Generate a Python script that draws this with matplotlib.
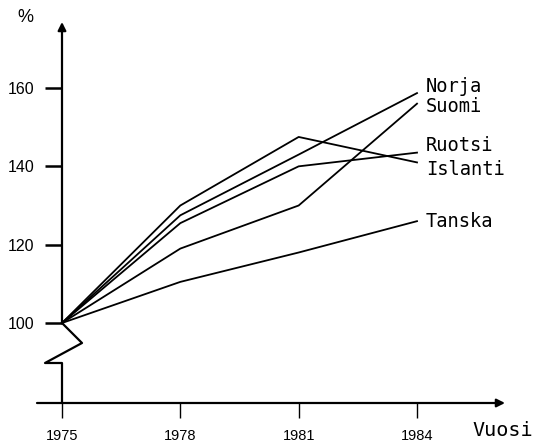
import matplotlib
matplotlib.use("Agg")
import matplotlib.pyplot as plt

years = [1975, 1978, 1981, 1984]
countries = ["Norja", "Suomi", "Ruotsi", "Islanti", "Tanska"]
norja = [100, 127.5, 143, 158.7]
suomi = [100, 119, 130, 156]
ruotsi = [100, 125.5, 140, 143.5]
islanti = [100, 130, 147.5, 141]
tanska = [100, 110.5, 118, 126]
series = [norja, suomi, ruotsi, islanti, tanska]
label_y = [160.5, 155.4, 145.4, 139.1, 126.0]
yticks = [100, 120, 140, 160]

W, H = 536, 444
fig = plt.figure(figsize=(W / 100, H / 100), dpi=100)
px_left, px_right = 62, 505
px_top, px_bottom = 22, 403
x_per_px = 9 / (417 - 62)
y_per_px = 60 / (323 - 88)
x0 = 1975
xmax = x0 + (px_right - px_left) * x_per_px
ymin = 100 - (px_bottom - 323) * y_per_px
ymax = 100 + (323 - px_top) * y_per_px

ax = fig.add_axes([px_left / W, (H - px_bottom) / H,
                   (px_right - px_left) / W, (px_bottom - px_top) / H])
ax.set_xlim(x0, xmax)
ax.set_ylim(ymin, ymax)
for s in ax.spines.values():
    s.set_visible(False)

lw_axis = 1.6
k = 'black'
ax.annotate('', xy=(x0, ymax), xytext=(x0, 100),
            arrowprops=dict(arrowstyle='-|>', color=k, lw=lw_axis,
                            mutation_scale=12, shrinkA=0, shrinkB=0),
            annotation_clip=False)
dx = x_per_px
dy = y_per_px
zx = [x0, x0 + 20 * dx, x0 - 17 * dx, x0, x0]
zy = [100, 100 - 20 * dy, 100 - 40 * dy, 100 - 40 * dy, ymin]
ax.plot(zx, zy, color=k, lw=lw_axis, clip_on=False, solid_capstyle='butt')
ax.annotate('', xy=(xmax, ymin), xytext=(x0 - 25 * dx, ymin),
            arrowprops=dict(arrowstyle='-|>', color=k, lw=lw_axis,
                            mutation_scale=12, shrinkA=0, shrinkB=0),
            annotation_clip=False)

ax.set_yticks(yticks)
ax.set_yticklabels([str(v) for v in yticks], family='Liberation Sans', fontsize=11.5)
ax.tick_params(axis='y', direction='out', length=12, width=1.8, pad=8)
ax.set_xticks(years)
ax.set_xticklabels([str(v) for v in years], family='Liberation Sans', fontsize=10.5)
ax.tick_params(axis='x', direction='out', length=11, width=1.0, pad=8)

for name, vals, ly in zip(countries, series, label_y):
    ax.plot(years, vals, color=k, lw=1.3, clip_on=False)
    ax.text(years[-1] + 9 * dx, ly, name, family='DejaVu Sans Mono',
            fontsize=13.5, va='center', ha='left', clip_on=False)

fig.text(472 / W, 1 - 430 / H, 'Vuosi', family='DejaVu Sans Mono',
         fontsize=14.5, va='center', ha='left')
fig.text(25 / W, 1 - 17 / H, '%', family='Liberation Sans',
         fontsize=13, va='center', ha='center')

fig.savefig('out.png', dpi=100)
